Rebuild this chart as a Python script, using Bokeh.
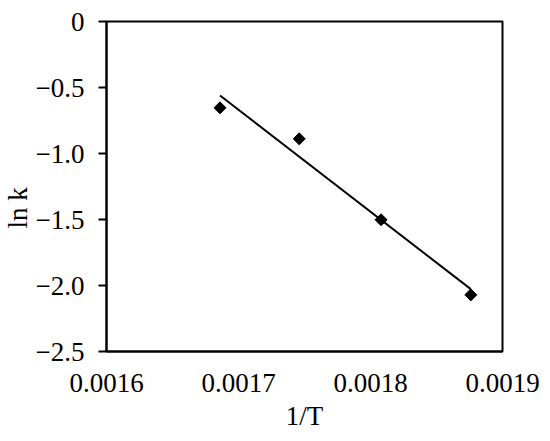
import numpy as np
from bokeh.plotting import figure
from bokeh.models import FixedTicker, Range1d, Title
from bokeh.embed import file_html
from bokeh.resources import INLINE

inv_T = [0.001686, 0.001746, 0.001808, 0.001876]
ln_k = [-0.654, -0.889, -1.502, -2.071]

x_ticks = [0.0016, 0.0017, 0.0018, 0.0019]
x_tick_labels = ["0.0016", "0.0017", "0.0018", "0.0019"]
y_ticks = [-2.5, -2.0, -1.5, -1.0, -0.5, 0.0]
y_tick_labels = ["\u22122.5", "\u22122.0", "\u22121.5", "\u22121.0", "\u22120.5", "0"]

FONT = "Liberation Serif"
FS = "27px"

p = figure(frame_width=396, frame_height=330, output_backend="svg",
           toolbar_location=None, x_range=Range1d(0.0016, 0.0019),
           y_range=Range1d(-2.5, 0.0),
           min_border_left=106, min_border_top=21, min_border_right=40,
           min_border_bottom=85)
p.grid.visible = False
p.outline_line_color = "black"
p.outline_line_width = 2
p.outline_line_alpha = 1.0
p.background_fill_color = "white"
p.border_fill_color = "white"

# x axis
xa = p.xaxis[0]
xa.ticker = FixedTicker(ticks=x_ticks)
xa.major_label_overrides = {t: l for t, l in zip(x_ticks, x_tick_labels)}
xa.major_tick_out = 0
xa.major_tick_in = 0
xa.minor_tick_out = 0
xa.minor_tick_in = 0
xa.axis_line_width = 2
xa.axis_line_color = "black"
xa.major_label_text_font = FONT
xa.major_label_text_font_size = FS
xa.major_label_text_color = "black"
xa.major_label_standoff = 22
xa.axis_label = "1/T"
xa.axis_label_text_font = FONT
xa.axis_label_text_font_size = FS
xa.axis_label_text_font_style = "normal"
xa.axis_label_text_color = "black"
xa.axis_label_standoff = 6

# y axis
ya = p.yaxis[0]
ya.ticker = FixedTicker(ticks=y_ticks)
ya.major_label_overrides = {t: l for t, l in zip(y_ticks, y_tick_labels)}
ya.major_tick_out = 8
ya.major_tick_in = 0
ya.major_tick_line_width = 2
ya.minor_tick_out = 0
ya.minor_tick_in = 0
ya.axis_line_width = 2
ya.axis_line_color = "black"
ya.major_label_text_font = FONT
ya.major_label_text_font_size = FS
ya.major_label_text_color = "black"
ya.major_label_standoff = 14

# trend line (least squares fit of the data)
slope, intercept = np.polyfit(inv_T, ln_k, 1)
xs = [min(inv_T), max(inv_T)]
ys = [slope * x + intercept for x in xs]
p.line(xs, ys, line_color="black", line_width=2)

p.scatter(inv_T, ln_k, marker="square", angle=np.pi / 4, size=8.5,
          fill_color="black", line_color="black")

# y axis title
ytitle = Title(text="ln k", align="left", offset=123, text_font=FONT,
               text_font_size=FS, text_font_style="normal", text_color="black",
               standoff=0)
p.add_layout(ytitle, "left")

open("out.html", "w").write(file_html(p, INLINE))
